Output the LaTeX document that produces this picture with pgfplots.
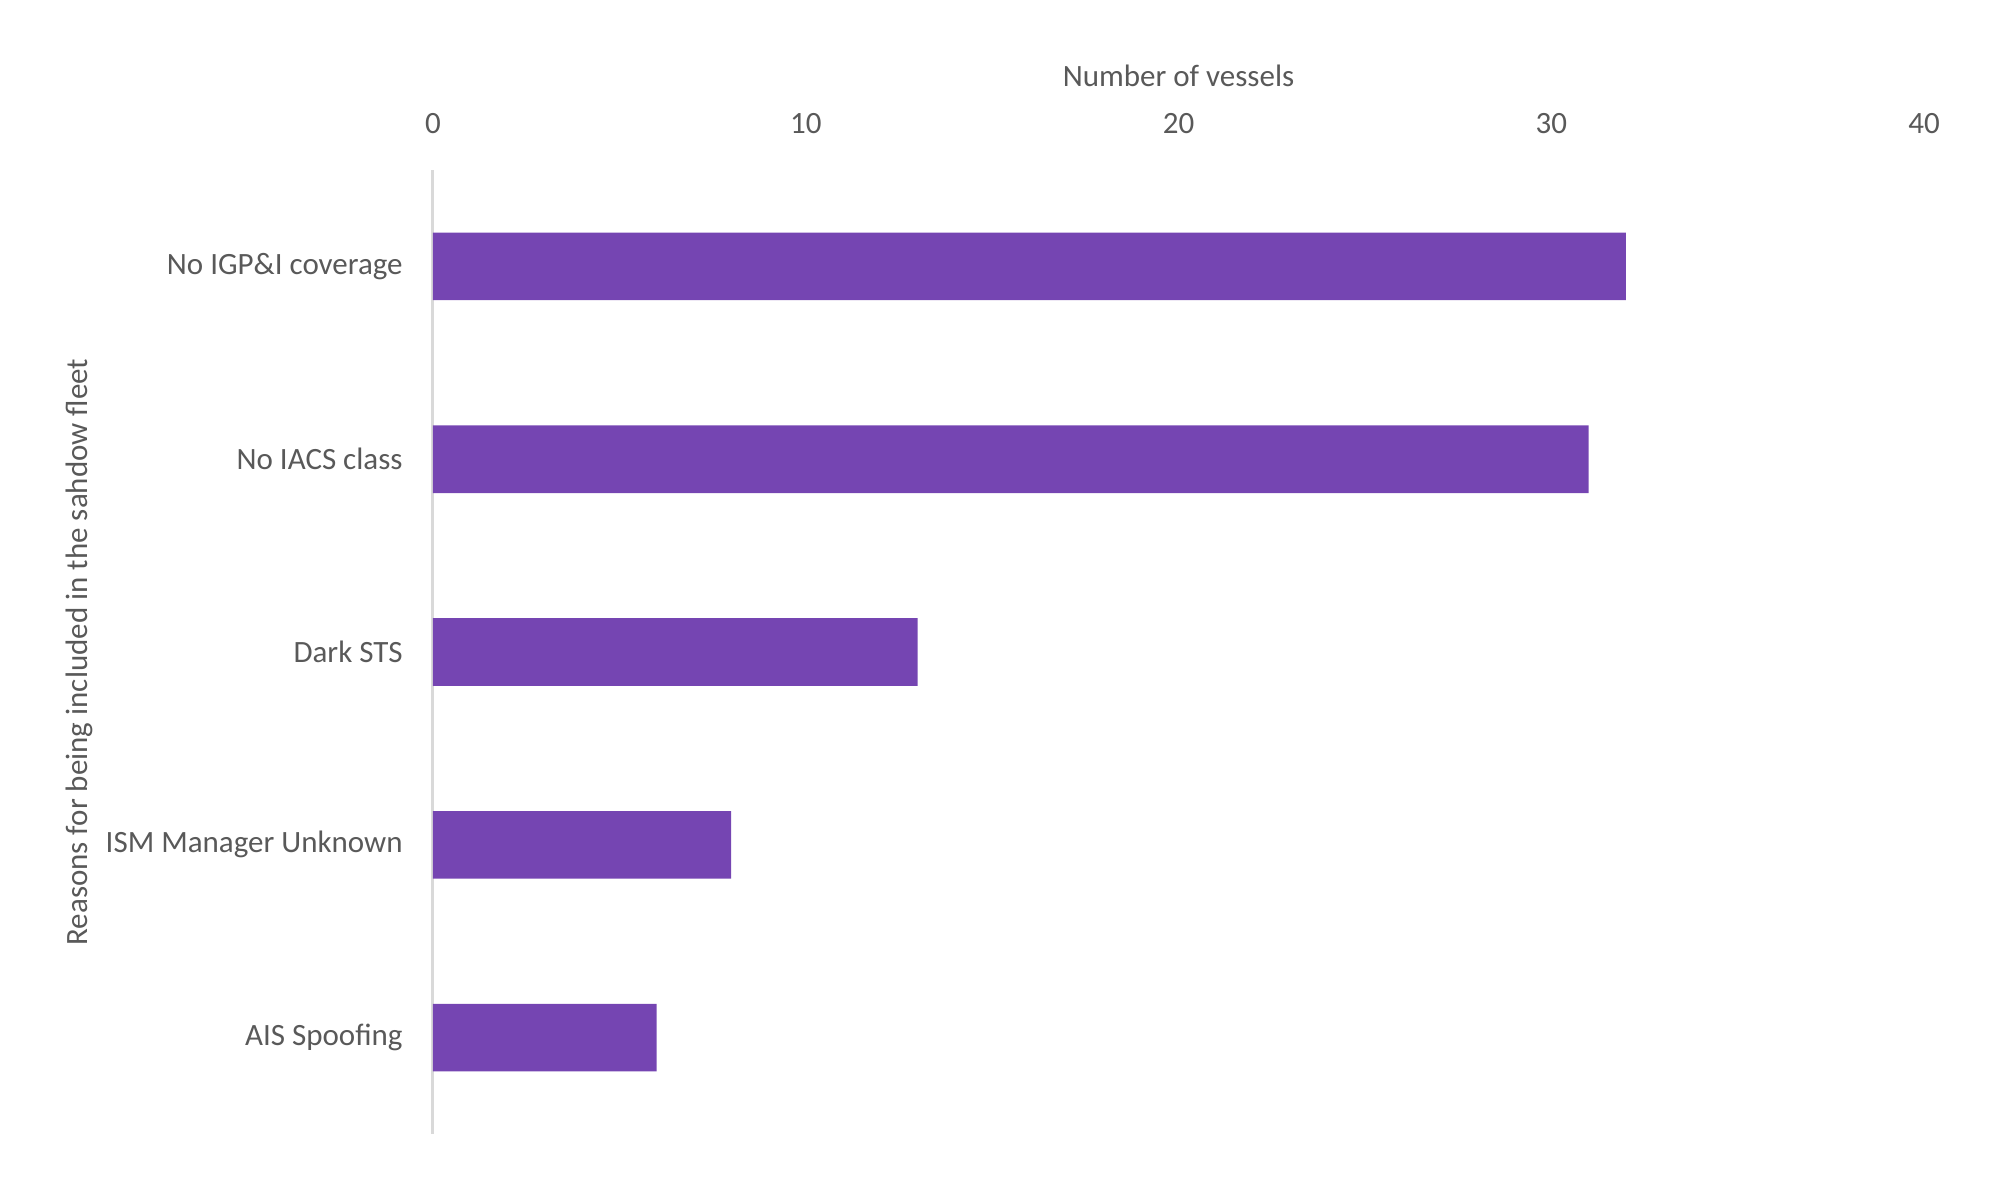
\documentclass[border=0pt]{standalone}
\usepackage{pgfplots}
\pgfplotsset{compat=1.18}
\usepackage{fontspec}
\setmainfont{Carlito}
\definecolor{barpurple}{HTML}{7545B2}
\definecolor{txtgray}{HTML}{595959}
\definecolor{axgray}{HTML}{D9D9D9}
\begin{document}
\begin{tikzpicture}
\path[use as bounding box] (0,0) rectangle (999pt,595.5pt);
\begin{axis}[
  at={(216.5pt,28.5pt)}, anchor=south west,
  scale only axis, width=745.5pt, height=482pt,
  xbar, bar width=33.8pt,
  xmin=0, xmax=40, ymin=-0.5, ymax=4.5,
  y dir=reverse,
  xtick={0,10,20,30,40},
  ytick={0,1,2,3,4},
  yticklabels={No IGP\&I coverage, No IACS class, Dark STS, ISM Manager Unknown, AIS Spoofing},
  xticklabel pos=top,
  axis x line*=top,
  axis y line*=left,
  x axis line style={draw=none},
  y axis line style={draw=axgray, line width=1.5pt},
  major tick length=0pt,
  font=\fontsize{15.5}{18.5}\selectfont,
  /pgf/number format/assume math mode=true,
  tick label style={text=txtgray},
  xticklabel style={anchor=center, yshift=23pt},
  yticklabel style={anchor=east, inner sep=0pt, xshift=-15pt},
  xlabel={Number of vessels},
  xlabel style={at={(axis description cs:0.5,1)}, anchor=center, yshift=47pt, text=txtgray},
  ylabel={Reasons for being included in the sahdow fleet},
  ylabel style={at={(axis description cs:-0.2374,0.5)}, anchor=center, text=txtgray},
  clip=false,
]
\addplot[fill=barpurple, draw=none] coordinates {(32,0) (31,1) (13,2) (8,3) (6,4)};
\end{axis}
\end{tikzpicture}
\end{document}
